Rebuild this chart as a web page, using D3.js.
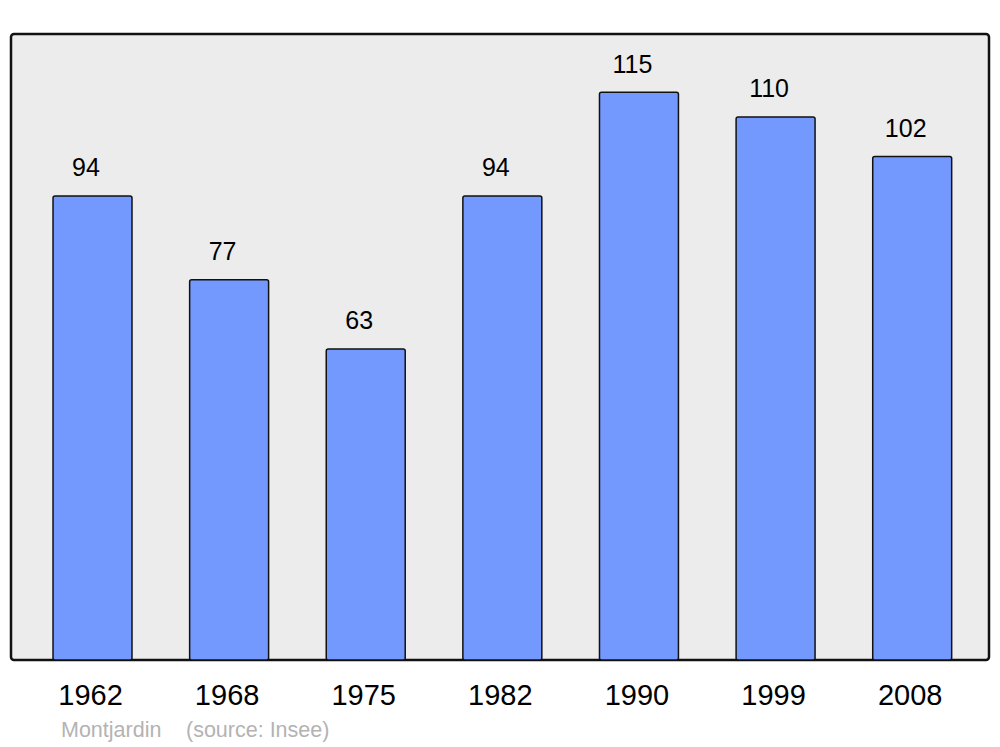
<!DOCTYPE html>
<html><head><meta charset="utf-8">
<script src="https://cdn.jsdelivr.net/npm/d3@7"></script>
<style>body{margin:0;background:#fff}svg{display:block}text{font-family:"Liberation Sans",Arial,sans-serif}</style>
</head><body>
<script>
const years = ["1962","1968","1975","1982","1990","1999","2008"];
const population = [94, 77, 63, 94, 115, 110, 102];
const yMax = 127;
const commune = "Montjardin";
const source = "(source: Insee)";

const W = 1000, H = 747;
const svg = d3.select("body").append("svg").attr("width", W).attr("height", H);

const frame = {x0: 11, x1: 989, y0: 34, y1: 660};
svg.append("rect").attr("x", frame.x0).attr("y", frame.y0)
  .attr("width", frame.x1 - frame.x0).attr("height", frame.y1 - frame.y0)
  .attr("rx", 3).attr("fill", "#ececec").attr("stroke", "#111").attr("stroke-width", 2.5);

const x = d3.scaleBand().domain(years).range([24.2, 980.5]).paddingInner(0.422).paddingOuter(0.211);
const y = d3.scaleLinear().domain([0, yMax]).range([frame.y1, frame.y0 - 1]);

const data = years.map((yr, i) => ({yr, v: population[i]}));

svg.append("g").selectAll("rect").data(data).join("rect")
  .attr("x", d => x(d.yr)).attr("y", d => y(d.v))
  .attr("width", x.bandwidth()).attr("height", d => y(0) - y(d.v))
  .attr("rx", 2).attr("fill", "#7399ff").attr("stroke", "#111").attr("stroke-width", 1.5);

svg.append("g").selectAll("text").data(data).join("text")
  .attr("x", d => x(d.yr) + x.bandwidth() / 2 - 6.5).attr("y", d => y(d.v) - 19.5)
  .attr("text-anchor", "middle").attr("font-size", 25).attr("fill", "#000")
  .text(d => d.v);

// x axis labels
const axis = d3.axisBottom(x).tickSize(0).tickPadding(0);
const gx = svg.append("g").attr("transform", `translate(-2,${frame.y1})`).call(axis);
gx.select(".domain").remove();
gx.selectAll("text").attr("y", 45).attr("dy", 0).attr("font-size", 29).attr("fill", "#000")
  .attr("font-family", "Liberation Sans, Arial, sans-serif");

svg.append("text").attr("x", 61).attr("y", 737).attr("font-size", 21.5).attr("fill", "#b3b3b3").text(commune);
svg.append("text").attr("x", 186).attr("y", 737).attr("font-size", 21.5).attr("fill", "#b3b3b3").text(source);
</script>
</body></html>
